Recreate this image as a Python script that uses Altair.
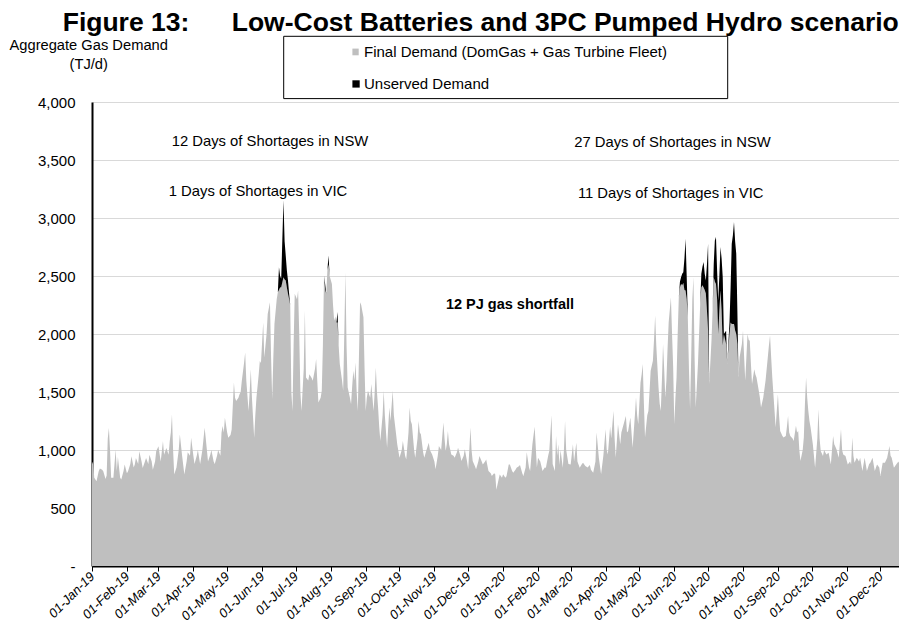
import altair as alt
import pandas as pd

# ---- data (day offset from 01-Jan-2019, TJ/d) ----
days = [
    0, 1, 2, 4, 6, 7, 9, 10, 12, 13, 14, 15, 16, 17, 19, 21, 22, 23, 25, 26,
    28, 29, 31, 32, 34, 35, 37, 38, 39, 41, 42, 44, 45, 47, 48, 50, 51, 53, 54, 56,
    57, 59, 61, 63, 64, 66, 68, 69, 70, 71, 72, 73, 75, 77, 78, 80, 82, 84, 85, 87,
    88, 90, 91, 93, 94, 96, 98, 100, 101, 103, 105, 106, 108, 109, 111, 112, 114, 115, 116, 117,
    118, 120, 121, 123, 124, 126, 127, 128, 130, 131, 132, 133, 135, 136, 137, 139, 140, 141, 142, 144,
    145, 146, 148, 149, 150, 152, 153, 155, 156, 158, 159, 160, 161, 162, 164, 165, 166, 167, 168, 170,
    171, 172, 173, 174, 175, 176, 177, 178, 179, 180, 182, 183, 184, 185, 186, 188, 189, 190, 192, 193,
    195, 196, 198, 199, 200, 201, 203, 204, 205, 206, 207, 208, 209, 210, 211, 213, 214, 215, 216, 217,
    218, 219, 220, 222, 223, 224, 225, 226, 227, 229, 230, 231, 232, 233, 234, 235, 236, 237, 238, 239,
    241, 242, 243, 244, 245, 247, 248, 250, 251, 252, 253, 254, 255, 256, 258, 259, 260, 262, 263, 264,
    265, 267, 268, 270, 271, 273, 275, 276, 278, 279, 281, 282, 283, 284, 286, 287, 289, 290, 291, 292,
    294, 295, 297, 299, 300, 302, 304, 305, 307, 308, 310, 312, 313, 314, 315, 316, 317, 319, 321, 322,
    324, 325, 327, 328, 330, 331, 333, 334, 335, 336, 337, 338, 340, 341, 343, 344, 346, 347, 349, 350,
    352, 354, 355, 357, 358, 359, 361, 362, 364, 365, 367, 368, 370, 371, 373, 374, 376, 377, 379, 380,
    382, 383, 385, 386, 388, 389, 391, 393, 395, 396, 398, 400, 402, 403, 405, 406, 408, 409, 411, 412,
    413, 414, 415, 416, 418, 419, 420, 421, 423, 425, 427, 428, 430, 431, 433, 435, 436, 438, 440, 442,
    443, 445, 447, 448, 450, 452, 454, 456, 457, 458, 460, 461, 463, 464, 465, 467, 469, 470, 472, 474,
    475, 476, 478, 480, 482, 483, 484, 485, 487, 488, 489, 490, 491, 493, 494, 495, 496, 498, 499, 500,
    501, 503, 504, 505, 506, 507, 508, 509, 510, 511, 512, 514, 515, 516, 517, 518, 519, 520, 521, 522,
    523, 524, 525, 526, 527, 528, 529, 530, 531, 532, 533, 534, 535, 536, 537, 538, 539, 540, 541, 542,
    543, 544, 545, 546, 547, 548, 550, 551, 552, 553, 554, 555, 556, 557, 558, 559, 560, 561, 563, 564,
    566, 567, 568, 569, 570, 571, 572, 573, 574, 575, 577, 578, 579, 580, 582, 583, 584, 585, 586, 588,
    589, 590, 592, 593, 594, 596, 598, 600, 601, 602, 603, 604, 606, 607, 609, 610, 611, 613, 614, 616,
    617, 618, 619, 620, 622, 623, 625, 626, 627, 628, 629, 631, 632, 633, 634, 635, 636, 637, 638, 640,
    642, 644, 645, 646, 647, 649, 650, 652, 654, 656, 657, 658, 659, 661, 663, 665, 666, 667, 669, 671,
    673, 674, 675, 676, 677, 679, 681, 682, 684, 686, 688, 690, 691, 693, 695, 697, 699, 700, 702, 704,
    706, 708, 709, 710, 712, 714, 716, 717, 719, 721, 723,
]

final_demand = [
    880, 903, 760, 730, 820, 840, 830, 816, 750, 780, 1100, 1190, 1000, 760, 760, 1004, 820, 940, 760, 745,
    820, 875, 800, 816, 880, 946, 850, 875, 930, 880, 990, 900, 845, 900, 932, 880, 960, 900, 830, 900,
    990, 1033, 900, 1076, 960, 1018, 960, 1076, 1150, 1307, 1000, 788, 850, 1000, 1134, 950, 788, 900, 980, 950,
    1105, 950, 880, 950, 1000, 880, 1000, 1191, 1100, 900, 960, 1000, 900, 880, 950, 1000, 950, 1150, 1206, 1150,
    1278, 1150, 1105, 1130, 1177, 1581, 1450, 1422, 1450, 1480, 1500, 1595, 1750, 1840, 1600, 1336, 1500, 1696, 1450, 1105,
    1300, 1451, 1650, 1768, 1750, 2100, 1797, 2000, 2172, 2273, 1800, 1437, 1800, 2086, 2300, 2360, 2380, 2400, 2403, 2490,
    2470, 2461, 2400, 2346, 2300, 2250, 1500, 1337, 1900, 2346, 2300, 2375, 2000, 1500, 1337, 1700, 2202, 1625, 1600, 1654,
    1620, 1597, 1700, 1784, 1600, 1409, 1450, 1510, 1900, 2504, 2380, 2346, 2550, 2600, 2500, 2432, 2250, 2115, 2150, 2100,
    2100, 1900, 1741, 1600, 1510, 2000, 2533, 1900, 1539, 1450, 1395, 1550, 1683, 1600, 1755, 1500, 1337, 1800, 2274, 2250,
    2144, 1700, 1337, 1450, 1510, 1450, 1568, 1337, 1500, 1712, 1500, 1366, 1200, 1078, 1300, 1510, 1300, 1020, 1200, 1366,
    1250, 1510, 1300, 1135, 1050, 934, 1000, 1078, 950, 919, 1150, 1366, 1250, 1222, 1000, 934, 1100, 1251, 1150, 1135,
    980, 934, 1000, 1063, 1000, 962, 900, 833, 950, 1035, 1000, 1236, 1100, 991, 1050, 1164, 1050, 962, 950, 934,
    980, 1020, 950, 905, 950, 1006, 900, 833, 1000, 1193, 1000, 905, 860, 833, 900, 948, 900, 876, 900, 919,
    818, 800, 775, 800, 790, 658, 746, 788, 760, 790, 761, 773, 876, 874, 820, 804, 830, 847, 860, 870,
    800, 775, 850, 980, 850, 820, 1049, 1200, 850, 934, 900, 820, 850, 847, 950, 991, 1300, 880, 818, 1120,
    950, 1049, 870, 1000, 847, 1000, 1250, 1000, 880, 876, 1050, 900, 1063, 900, 847, 880, 890, 862, 850, 870,
    830, 804, 900, 1150, 934, 790, 950, 1179, 1000, 962, 1200, 1100, 1337, 1100, 934, 1222, 1049, 1150, 1222, 1294,
    1150, 1164, 1280, 1020, 1300, 1452, 1300, 1222, 1582, 1650, 1741, 1400, 1107, 1300, 1337, 1500, 1683, 1770, 1950, 2159,
    1900, 1539, 1400, 1337, 1600, 1914, 1700, 1452, 1600, 1870, 2100, 2317, 2000, 1712, 1222, 1450, 1625, 2000, 2317, 2400,
    2432, 2420, 2440, 2380, 2375, 2300, 2144, 1700, 1352, 1800, 2300, 2490, 1800, 1366, 1550, 1741, 2000, 2259, 2400, 2420,
    2400, 2380, 2350, 2200, 2029, 1568, 1942, 2200, 2490, 2450, 2430, 2300, 2000, 2200, 2375, 2200, 1900, 2000, 1914, 1741,
    2000, 2100, 2086, 2086, 2086, 2030, 2000, 1914, 1625, 1800, 1914, 2029, 1800, 1597, 2000, 1950, 1942, 1750, 1568, 1697,
    1650, 1625, 1510, 1450, 1366, 1452, 1597, 1798, 1900, 1986, 1800, 1625, 1337, 1193, 1481, 1300, 1164, 1120, 1107, 1121,
    1200, 1294, 1150, 1121, 1100, 1078, 1208, 1150, 1164, 1000, 905, 1000, 1107, 1400, 1625, 1450, 1337, 1250, 1193, 1049,
    847, 1100, 1352, 1100, 991, 948, 1000, 962, 977, 876, 1000, 1121, 1050, 1006, 934, 1179, 1000, 962, 948, 876,
    900, 876, 1107, 950, 890, 934, 900, 934, 818, 934, 818, 880, 890, 934, 818, 876, 850, 775, 890, 890,
    934, 1035, 950, 934, 847, 876, 900, 876, 876, 919, 876,
]

unserved_days = [
    166, 167, 168, 170, 171, 172, 173, 174, 175,
    207, 210, 218,
    522, 523, 524, 525, 526, 527, 528,
    541, 542, 543, 544, 545, 546, 547,
    552, 553, 554, 555, 556, 557, 558, 559, 560,
    563,
    566, 567, 568, 569, 570, 571, 572, 573,
]
unserved_amount = [
    196, 100, 73, 663, 330, 216, 150, 115, 50,
    50, 77, 90,
    50, 58, 100, 93, 270, 446, 200,
    119, 160, 220, 140, 111, 400, 749,
    110, 357, 406, 250, 288, 300, 374, 450, 590,
    115,
    100, 300, 692, 764, 879, 770, 692, 286,
]

y_ticks = [0, 500, 1000, 1500, 2000, 2500, 3000, 3500, 4000]

series_names = ["Final Demand (DomGas + Gas Turbine Fleet)", "Unserved Demand"]
notes = ["12 Days of Shortages in NSW", "1 Days of Shortages in VIC",
         "27 Days of Shortages in NSW", "11 Days of Shortages in VIC"]

# ---- build table ----
start = pd.Timestamp("2019-01-01", tz="UTC")
uns = dict(zip(unserved_days, unserved_amount))
n = min(len(days), len(final_demand))
dates = [(start + pd.Timedelta(days=d)).strftime("%Y-%m-%dT00:00:00Z") for d in days[:n]]
df = pd.DataFrame({
    "date": dates,
    "final": final_demand[:n],
    "unserved": [uns.get(d, 0) for d in days[:n]],
})
df["total"] = df["final"] + df["unserved"]


def ms(ts):
    return int(ts.value // 10**6)


month_ticks = [ms(t) for t in pd.date_range("2019-01-01", "2020-12-01", freq="MS", tz="UTC")]
x_domain = [ms(start), ms(start + pd.Timedelta(hours=716.5 * 24))]

FONT = "Liberation Sans"

x_axis = alt.Axis(
    values=month_ticks, labelExpr="utcFormat(datum.value, '%d-%b-%y')",
    labelAngle=315, labelAlign="right", labelBaseline="middle", labelPadding=3,
    labelFont=FONT, labelFontStyle="italic", labelFontSize=13, labelColor="black",
    labelOverlap=False, labelFlush=False, labelBound=False,
    tickSize=5, tickColor="black", tickWidth=1,
    domainColor="black", domainWidth=2, grid=False, title=None,
)
y_axis = alt.Axis(
    values=y_ticks,
    labelExpr="datum.value == 0 ? '-\u00a0\u00a0' : format(datum.value, ',')",
    ticks=False, domainColor="black", domainWidth=2,
    grid=True, gridColor="#d9d9d9", gridWidth=1,
    labelFont=FONT, labelFontSize=15, labelColor="black", labelPadding=17,
    title=None,
)
x_scale = alt.Scale(type="utc", domain=x_domain)
y_scale = alt.Scale(domain=[0, 4000], nice=False)

base = alt.Chart(df)
gray_area = base.mark_area(color="#bfbfbf", opacity=1, clip=True, interpolate="linear").encode(
    x=alt.X("date:T", scale=x_scale, axis=x_axis),
    y=alt.Y("final:Q", scale=y_scale, axis=y_axis),
)
black_area = base.mark_area(color="black", opacity=1, clip=True, interpolate="linear").encode(
    x=alt.X("date:T", scale=x_scale, axis=x_axis),
    y=alt.Y("total:Q", scale=y_scale, axis=y_axis),
    y2="final:Q",
)

dummy = pd.DataFrame({"k": [0]})


def label(text, x, y, size=14.8, weight="normal", align="center", baseline="middle"):
    return alt.Chart(dummy).mark_text(
        text=text, font=FONT, fontSize=size, fontWeight=weight, color="black",
        align=align, baseline=baseline,
    ).encode(x=alt.value(x), y=alt.value(y))


def box(x1, x2, y1, y2, fill, stroke=None):
    kw = dict(fill=fill)
    if stroke:
        kw.update(stroke=stroke, strokeWidth=1)
    return alt.Chart(dummy).mark_rect(**kw).encode(
        x=alt.value(x1), x2=alt.value(x2), y=alt.value(y1), y2=alt.value(y2)
    )


layers = [
    gray_area,
    black_area,
    # title
    label("Figure 13:", -29.3, -71, size=26.5, weight="bold", align="left", baseline="alphabetic"),
    label("Low-Cost Batteries and 3PC Pumped Hydro scenario", 139.7, -71, size=26.5,
          weight="bold", align="left", baseline="alphabetic"),
    # y title
    label("Aggregate Gas Demand", -3.3, -51.7, size=14.7, baseline="alphabetic"),
    label("(TJ/d)", -3.3, -33.2, size=14.7, baseline="alphabetic"),
    # legend
    box(191.7, 635.7, -65.7, -3.4, "white", "black"),
    box(260.4, 266.7, -53.4, -46.7, "#bfbfbf"),
    box(260.4, 267.7, -21.7, -14.4, "black"),
    label(series_names[0], 272, -50, size=15, align="left"),
    label(series_names[1], 272, -18.4, size=15, align="left"),
    # annotations
    label(notes[0], 178, 40),
    label(notes[1], 166, 90),
    label(notes[2], 580.5, 41),
    label(notes[3], 578.7, 91.6),
    label("12 PJ gas shortfall", 418, 203.3, size=14.5, weight="bold"),
]

chart = alt.layer(*layers).properties(
    width=807,
    height=464,
    autosize=alt.AutoSizeParams(type="none"),
    padding={"left": 84, "top": 94, "right": 0, "bottom": 59},
    background="white",
).configure_view(stroke=None)

chart.save("out.html", embed_options={"renderer": "svg", "actions": False})
